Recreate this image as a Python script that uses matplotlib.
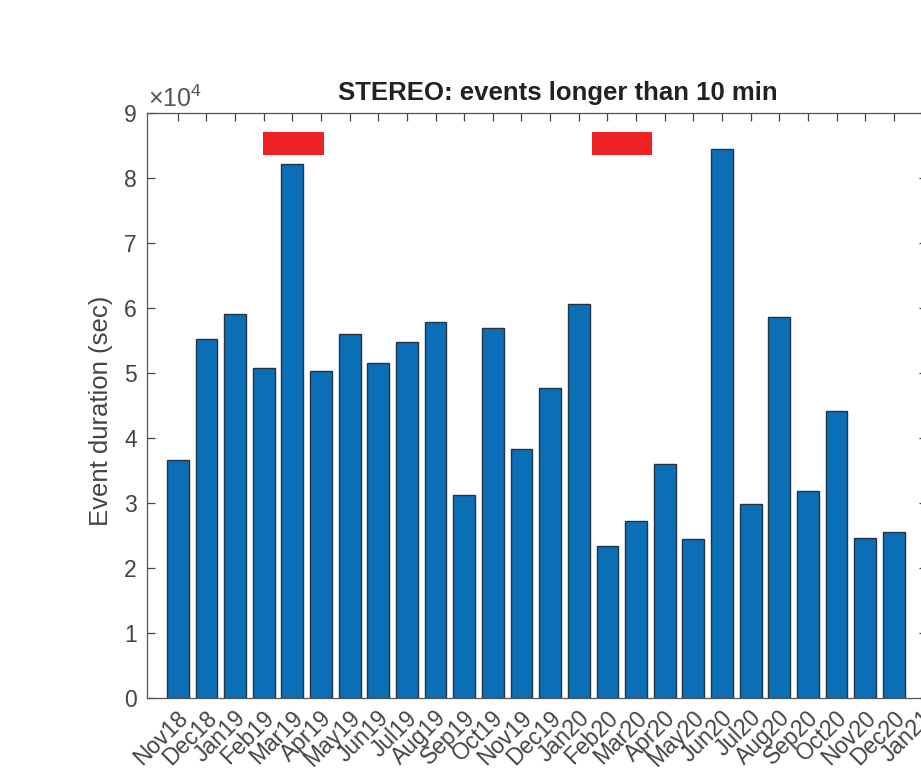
import matplotlib.pyplot as plt
import matplotlib.transforms as mtransforms
from matplotlib.patches import Rectangle
from matplotlib.ticker import FuncFormatter

plt.rcParams['font.family'] = ['Liberation Sans', 'DejaVu Sans']
plt.rcParams['mathtext.fontset'] = 'custom'
plt.rcParams['mathtext.rm'] = 'Liberation Sans'

months = ['Nov18', 'Dec18', 'Jan19', 'Feb19', 'Mar19', 'Apr19', 'May19',
          'Jun19', 'Jul19', 'Aug19', 'Sep19', 'Oct19', 'Nov19', 'Dec19',
          'Jan20', 'Feb20', 'Mar20', 'Apr20', 'May20', 'Jun20', 'Jul20',
          'Aug20', 'Sep20', 'Oct20', 'Nov20', 'Dec20']
tick_labels = months + ['Jan21']

# total duration of events > 10 min per month (sec)
duration = [36660, 55280, 59120, 50820, 82150, 50300, 56000,
            51630, 54860, 57850, 31280, 57020, 38310, 47790,
            60660, 23430, 27280, 36000, 24500, 84460, 29900,
            58620, 31900, 44250, 24710, 25580]

# periods flagged in red (x in month index, y in sec)
flag_x = [(3.99, 6.11), (15.45, 17.57)]
flag_y = (83630, 87080)

fig = plt.figure(figsize=(9.21, 7.83), dpi=100)
ax = fig.add_axes([0.1591, 0.1082, 0.8469, 0.7471])

x = list(range(1, len(months) + 1))
ax.bar(x, duration, width=0.76, color='#0B6FB8', edgecolor='#263340',
       linewidth=1.0, zorder=2)

for x0, x1 in flag_x:
    ax.add_patch(Rectangle((x0, flag_y[0]), x1 - x0, flag_y[1] - flag_y[0],
                           facecolor='#EE2124', edgecolor='none', zorder=3))

ax.set_xlim(-0.09, 27.14)
ax.set_ylim(0, 90000)
ax.set_yticks(range(0, 90001, 10000))
ax.yaxis.set_major_formatter(FuncFormatter(lambda v, p: '%d' % round(v / 1e4)))
ax.set_xticks(range(1, len(tick_labels) + 1))
ax.set_xticklabels(tick_labels, rotation=45, ha='right', va='center',
                   rotation_mode='anchor')

ax.tick_params(direction='in', length=5.8, width=0.9, colors='#444444',
               labelsize=16.5, top=True, right=True, pad=7)
ax.tick_params(axis='x', pad=0)

# push the rotated month labels down/right of their ticks
shift = mtransforms.ScaledTranslation(7 / 100, -16 / 100, fig.dpi_scale_trans)
for lab in ax.get_xticklabels():
    lab.set_transform(lab.get_transform() + shift)

for s in ax.spines.values():
    s.set_color('#555555')
    s.set_linewidth(0.9)

ax.set_ylabel('Event duration (sec)', fontsize=18.5, color='#444444', labelpad=8)
ax.yaxis.label.set_y(0.491)
ax.set_title('STEREO: events longer than 10 min', fontsize=18.5,
             fontweight='bold', color='#222222', x=0.527, pad=9.5)
ax.text(0.002, 1 + 6 / 585, r'$\times10^{4}$', transform=ax.transAxes,
        fontsize=18, color='#555555', ha='left', va='baseline')

fig.savefig('out.png', dpi=100)
